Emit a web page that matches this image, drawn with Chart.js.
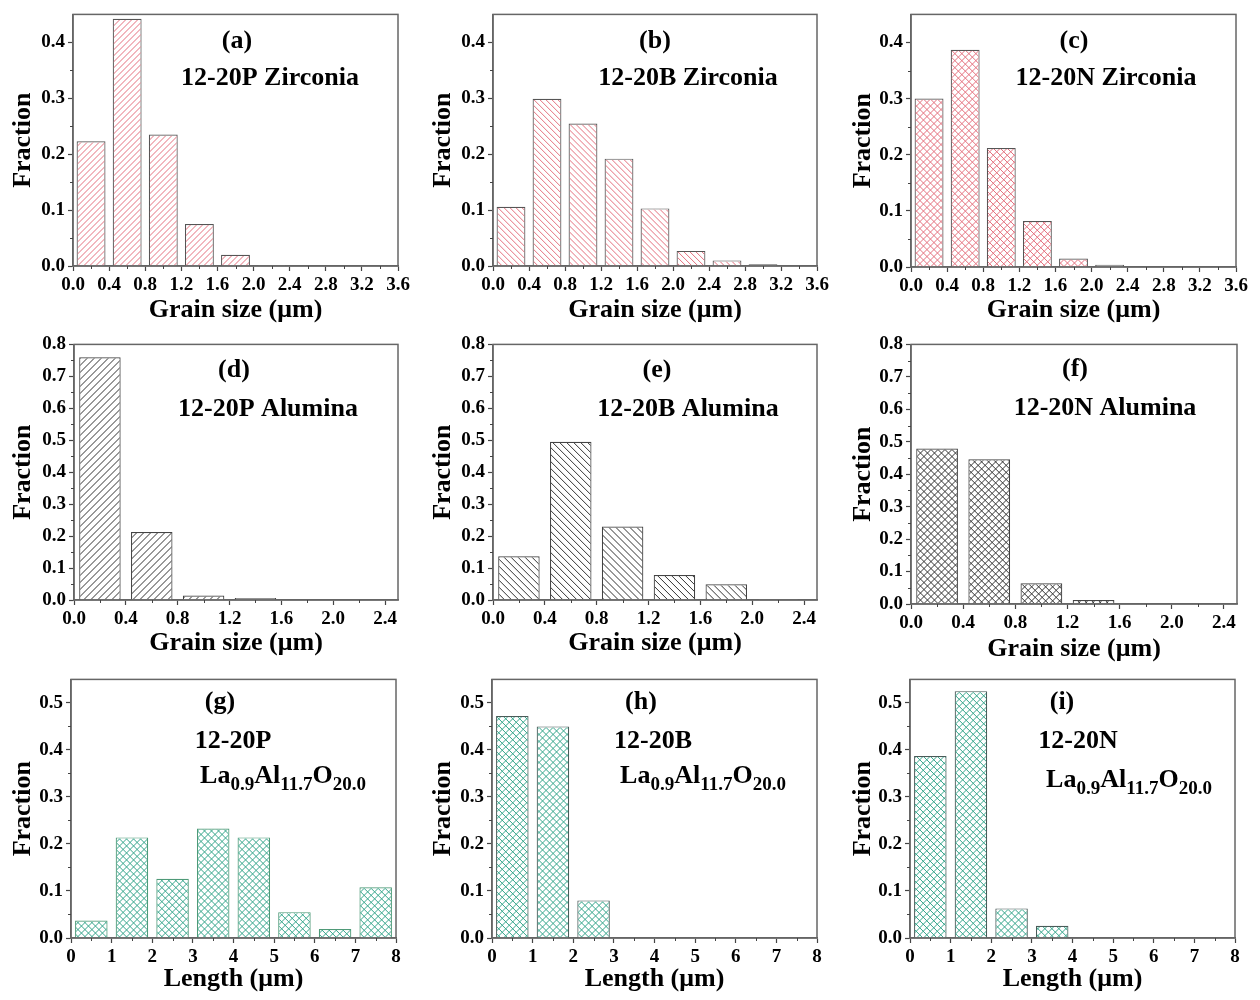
<!DOCTYPE html>
<html>
<head>
<meta charset="utf-8">
<script src="https://cdn.jsdelivr.net/npm/chart.js@4.4.0/dist/chart.umd.min.js"></script>
<style>
  body { margin: 0; background: #fff; }
  #wrap { position: relative; width: 1260px; height: 1000px; background: #fff; }
  #wrap canvas { position: absolute; }
</style>
</head>
<body>
<div id="wrap"></div>
<script>
const serif = "'Liberation Serif', 'Times New Roman', serif";

// bin centres
const binsZr = [0.2, 0.6, 1.0, 1.4, 1.8, 2.2, 2.6, 3.0, 3.4];
const binsAl = [0.2, 0.6, 1.0, 1.4, 1.8, 2.2];
const binsLa = [0.5, 1.5, 2.5, 3.5, 4.5, 5.5, 6.5, 7.5];

// fractions
const fracPZr = [0.223, 0.442, 0.235, 0.075, 0.020, 0.002, 0.001, 0, 0];
const fracBZr = [0.106, 0.299, 0.255, 0.192, 0.103, 0.027, 0.010, 0.003, 0.001];
const fracNZr = [0.300, 0.387, 0.212, 0.082, 0.015, 0.004, 0, 0, 0];
const fracPAl = [0.760, 0.213, 0.014, 0.006, 0.001, 0];
const fracBAl = [0.137, 0.495, 0.230, 0.078, 0.049, 0.003];
const fracNAl = [0.479, 0.446, 0.064, 0.012, 0.001, 0];
const fracPLa = [0.037, 0.214, 0.126, 0.233, 0.214, 0.055, 0.019, 0.108];
const fracBLa = [0.472, 0.450, 0.080, 0, 0, 0, 0, 0];
const fracNLa = [0.387, 0.525, 0.063, 0.026, 0, 0, 0, 0];

// tick labels
const xTicksZr = [0, 0.4, 0.8, 1.2, 1.6, 2.0, 2.4, 2.8, 3.2, 3.6];
const xTicksAl = [0, 0.4, 0.8, 1.2, 1.6, 2.0, 2.4];
const xTicksLa = [0, 1, 2, 3, 4, 5, 6, 7, 8];
const yTicksZr = [0, 0.1, 0.2, 0.3, 0.4];
const yTicksAl = [0, 0.1, 0.2, 0.3, 0.4, 0.5, 0.6, 0.7, 0.8];
const yTicksLa = [0, 0.1, 0.2, 0.3, 0.4, 0.5];

const formula = [['La', 0], ['0.9', 1], ['Al', 0], ['11.7', 1], ['O', 0], ['20.0', 1]];

const rowTop = [0, 330, 665];
const rowH = [330, 335, 335];
const red = '#e4707e', black = '#333', teal = '#35a58b';

const panels = [
    { col: 0, row: 0, area: [73, 5, 398, 266], bins: binsZr, vals: fracPZr, xTicks: xTicksZr, yTicks: yTicksZr, xMax: 3.6, yMax: 0.45, xDec: 1,
      xTitle: 'Grain size (μm)', titleY: 310, hatch: ['/', red, 6], border: '#555',
      texts: [{ t: '(a)', dx: 164, dy: 27 }, { t: '12-20P Zirconia', dx: 197, dy: 64 }] },
    { col: 1, row: 0, area: [493, 5, 817, 266], bins: binsZr, vals: fracBZr, xTicks: xTicksZr, yTicks: yTicksZr, xMax: 3.6, yMax: 0.45, xDec: 1,
      xTitle: 'Grain size (μm)', titleY: 310, hatch: ['\\', red, 6], border: '#555',
      texts: [{ t: '(b)', dx: 162, dy: 27 }, { t: '12-20B Zirconia', dx: 195, dy: 64 }] },
    { col: 2, row: 0, area: [911, 5, 1236, 267], bins: binsZr, vals: fracNZr, xTicks: xTicksZr, yTicks: yTicksZr, xMax: 3.6, yMax: 0.45, xDec: 1,
      xTitle: 'Grain size (μm)', titleY: 310, hatch: ['x', red, 7], border: '#555',
      texts: [{ t: '(c)', dx: 163, dy: 27 }, { t: '12-20N Zirconia', dx: 195, dy: 64 }] },
    { col: 0, row: 1, area: [74, 339, 398, 600], bins: binsAl, vals: fracPAl, xTicks: xTicksAl, yTicks: yTicksAl, xMax: 2.5, yMax: 0.8, xDec: 1,
      xTitle: 'Grain size (μm)', titleY: 643, hatch: ['/', black, 7], border: '#444',
      texts: [{ t: '(d)', dx: 160, dy: 26 }, { t: '12-20P Alumina', dx: 194, dy: 65 }] },
    { col: 1, row: 1, area: [493, 339, 817, 600], bins: binsAl, vals: fracBAl, xTicks: xTicksAl, yTicks: yTicksAl, xMax: 2.5, yMax: 0.8, xDec: 1,
      xTitle: 'Grain size (μm)', titleY: 643, hatch: ['\\', black, 7], border: '#444',
      texts: [{ t: '(e)', dx: 164, dy: 26 }, { t: '12-20B Alumina', dx: 195, dy: 65 }] },
    { col: 2, row: 1, area: [911, 343, 1237, 604], bins: binsAl, vals: fracNAl, xTicks: xTicksAl, yTicks: yTicksAl, xMax: 2.5, yMax: 0.8, xDec: 1,
      xTitle: 'Grain size (μm)', titleY: 649, hatch: ['x', black, 7], border: '#444',
      texts: [{ t: '(f)', dx: 164, dy: 25 }, { t: '12-20N Alumina', dx: 194, dy: 64 }] },
    { col: 0, row: 2, area: [71, 677, 396, 938], bins: binsLa, vals: fracPLa, xTicks: xTicksLa, yTicks: yTicksLa, xMax: 8, yMax: 0.55, xDec: 0,
      xTitle: 'Length (μm)', titleY: 979, hatch: ['x', teal, 7], border: '#4f9a78',
      texts: [{ t: '(g)', dx: 149, dy: 23 }, { t: '12-20P', dx: 162, dy: 62 }, { parts: formula, dx: 212, dy: 104 }] },
    { col: 1, row: 2, area: [492, 677, 817, 938], bins: binsLa, vals: fracBLa, xTicks: xTicksLa, yTicks: yTicksLa, xMax: 8, yMax: 0.55, xDec: 0,
      xTitle: 'Length (μm)', titleY: 979, hatch: ['x', teal, 7], border: '#4a5a58',
      texts: [{ t: '(h)', dx: 149, dy: 23 }, { t: '12-20B', dx: 161, dy: 62 }, { parts: formula, dx: 211, dy: 104 }] },
    { col: 2, row: 2, area: [910, 677, 1235, 938], bins: binsLa, vals: fracNLa, xTicks: xTicksLa, yTicks: yTicksLa, xMax: 8, yMax: 0.55, xDec: 0,
      xTitle: 'Length (μm)', titleY: 979, hatch: ['x', teal, 7], border: '#4a5a58',
      texts: [{ t: '(i)', dx: 152, dy: 23 }, { t: '12-20N', dx: 168, dy: 62 }, { parts: formula, dx: 219, dy: 108 }] }
];

// hatch lines inside every bar, clipped to the bar drawn by Chart.js
const barHatch = {
    id: 'barHatch',
    afterDatasetsDraw(chart, args, opts) {
        const ctx = chart.ctx;
        const [kind, color, s] = opts.style;
        ctx.save();
        ctx.strokeStyle = color;
        ctx.lineWidth = 1;
        chart.getDatasetMeta(0).data.forEach(bar => {
            const { x, y, base, width } = bar.getProps(['x', 'y', 'base', 'width'], true);
            const left = x - width / 2 + 1, right = x + width / 2 - 1;
            const top = Math.min(y, base) + 1, bottom = Math.max(y, base);
            const h = bottom - top;
            if (h < 1) return;
            ctx.save();
            ctx.beginPath();
            ctx.rect(left, top, right - left, h);
            ctx.clip();
            ctx.beginPath();
            const start = Math.floor((left - h) / s) * s;
            for (let k = start; k < right + h; k += s) {
                if (kind === '/' || kind === 'x') { ctx.moveTo(k, bottom); ctx.lineTo(k + h, top); }
                if (kind === '\\' || kind === 'x') { ctx.moveTo(k, top); ctx.lineTo(k + h, bottom); }
            }
            ctx.stroke();
            ctx.restore();
        });
        ctx.restore();
    }
};

// frame, minor ticks and in-plot labels
const panelDeco = {
    id: 'panelDeco',
    afterDraw(chart, args, opts) {
        const { ctx, chartArea: a } = chart;
        const xs = chart.scales.x, ys = chart.scales.y;
        ctx.save();
        ctx.strokeStyle = '#666';
        ctx.lineWidth = 1.5;
        ctx.strokeRect(a.left, a.top, a.right - a.left, a.bottom - a.top);

        ctx.strokeStyle = '#444';
        ctx.lineWidth = 1;
        ctx.beginPath();
        const xt = opts.xTicks, yt = opts.yTicks;
        for (let i = 0; i < xt.length - 1; i++) {
            const px = Math.round(xs.getPixelForValue((xt[i] + xt[i + 1]) / 2)) + 0.5;
            ctx.moveTo(px, a.bottom); ctx.lineTo(px, a.bottom + 3);
        }
        for (let i = 0; i < yt.length; i++) {
            const v = yt[i] + (yt[1] - yt[0]) / 2;
            if (v >= opts.yMax - 1e-9) continue;
            const py = Math.round(ys.getPixelForValue(v)) + 0.5;
            ctx.moveTo(a.left - 3, py); ctx.lineTo(a.left, py);
        }
        ctx.stroke();

        ctx.fillStyle = '#000';
        for (const it of opts.texts) {
            const x = a.left + it.dx, y = a.top + it.dy;
            if (it.parts) {
                const main = 'bold 26px ' + serif, sub = 'bold 19px ' + serif;
                let w = 0;
                for (const [s, isSub] of it.parts) { ctx.font = isSub ? sub : main; w += ctx.measureText(s).width; }
                let cx = x - w / 2;
                ctx.textAlign = 'left';
                ctx.textBaseline = 'alphabetic';
                for (const [s, isSub] of it.parts) {
                    ctx.font = isSub ? sub : main;
                    ctx.fillText(s, cx, isSub ? y + 7 : y);
                    cx += ctx.measureText(s).width;
                }
            } else {
                ctx.font = 'bold 26px ' + serif;
                ctx.textAlign = 'center';
                ctx.textBaseline = 'middle';
                ctx.fillText(it.t, x, y);
            }
        }
        ctx.restore();
    }
};

const wrap = document.getElementById('wrap');
const tickFont = { family: serif, size: 19, weight: 'bold' };
const titleFont = { family: serif, size: 26, weight: 'bold', lineHeight: 1 };

panels.forEach(p => {
    const cLeft = p.col * 420, cTop = rowTop[p.row], W = 420, H = rowH[p.row];
    const [l, t, r, b] = p.area;
    const cv = document.createElement('canvas');
    cv.width = W; cv.height = H;
    cv.style.left = cLeft + 'px';
    cv.style.top = cTop + 'px';
    wrap.appendChild(cv);

    const yw = l - cLeft, xh = cTop + H - b;
    const pb = cTop + H - 13 - p.titleY;

    new Chart(cv.getContext('2d'), {
        type: 'bar',
        data: {
            datasets: [{
                data: p.bins.map((x, i) => ({ x: x, y: p.vals[i] })),
                backgroundColor: '#fff',
                borderColor: p.border,
                borderWidth: 1.2,
                barPercentage: 0.8,
                categoryPercentage: 1
            }]
        },
        options: {
            responsive: false,
            animation: false,
            devicePixelRatio: 1,
            layout: { padding: { left: 0, top: t - cTop, right: cLeft + W - r, bottom: 0 } },
            plugins: {
                legend: { display: false },
                tooltip: { enabled: false },
                barHatch: { style: p.hatch },
                panelDeco: { texts: p.texts, xTicks: p.xTicks, yTicks: p.yTicks, yMax: p.yMax }
            },
            scales: {
                x: {
                    type: 'linear', min: 0, max: p.xMax, offset: false,
                    afterFit: s => { s.height = xh; },
                    afterBuildTicks: s => { s.ticks = p.xTicks.map(v => ({ value: v })); },
                    grid: { display: true, offset: false, drawOnChartArea: false, drawTicks: true, tickLength: 5, tickColor: '#444', tickWidth: 1.2 },
                    border: { display: true, color: '#666', width: 1.5 },
                    ticks: { autoSkip: false, maxRotation: 0, padding: 3, color: '#000', font: tickFont,
                             callback: v => Number(v).toFixed(p.xDec) },
                    title: { display: true, text: p.xTitle, color: '#000', font: titleFont, padding: { top: 0, bottom: pb } }
                },
                y: {
                    min: 0, max: p.yMax,
                    afterFit: s => { s.width = yw; },
                    afterBuildTicks: s => { s.ticks = p.yTicks.map(v => ({ value: v })); },
                    grid: { display: true, drawOnChartArea: false, drawTicks: true, tickLength: 5, tickColor: '#444', tickWidth: 1.2 },
                    border: { display: true, color: '#666', width: 1.5 },
                    ticks: { padding: 3, color: '#000', font: tickFont, callback: v => Number(v).toFixed(1) },
                    title: { display: true, text: 'Fraction', color: '#000', font: titleFont, padding: { top: 10, bottom: 0 } }
                }
            }
        },
        plugins: [barHatch, panelDeco]
    });
});
</script>
</body>
</html>
